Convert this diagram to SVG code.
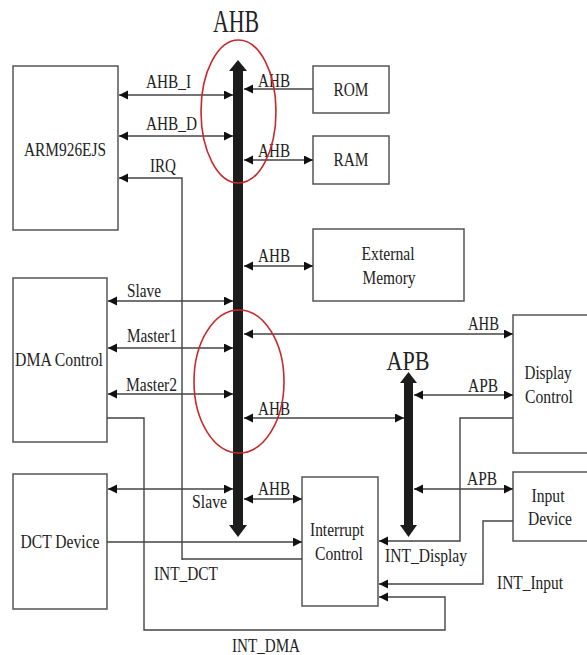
<svg xmlns="http://www.w3.org/2000/svg" width="587" height="655" viewBox="0 0 587 655">
<style>
.box{fill:#fff;stroke:#555;stroke-width:1.5}
.ln{fill:none;stroke:#444;stroke-width:1.4}
.t{font-family:"Liberation Serif","Times New Roman",serif;font-size:18px;fill:#222}
.c{text-anchor:middle}
.bus{fill:#1c1c1c}
.ring{fill:none;stroke:#c8282a;stroke-width:1.6}
</style>
<defs>
<marker id="ah" markerUnits="userSpaceOnUse" markerWidth="10" markerHeight="10" refX="9" refY="4.5" orient="auto-start-reverse" viewBox="0 0 10 10">
<path d="M0,0 L9,4.5 L0,9 z" fill="#111"/>
</marker>
</defs>
<rect width="587" height="655" fill="#fff"/>

<g id="ahb-bus">
<rect class="bus" x="233" y="70" width="10" height="457"/>
<polygon class="bus" points="238,60 247,71 229,71"/>
<polygon class="bus" points="229,525 247,525 238,537"/>
<text class="t c" x="236" y="32" style="font-size:31px" textLength="46" lengthAdjust="spacingAndGlyphs">AHB</text>
</g>
<g id="apb-bus">
<rect class="bus" x="404" y="381" width="9" height="146"/>
<polygon class="bus" points="408.5,372 417,383 400,383"/>
<polygon class="bus" points="400,525 417,525 408.5,537"/>
<text class="t c" x="408" y="370" style="font-size:27px" textLength="43" lengthAdjust="spacingAndGlyphs">APB</text>
</g>

<g id="arm">
<rect class="box" x="13" y="66" width="105" height="164"/>
<text class="t c" x="65" y="156" textLength="82" lengthAdjust="spacingAndGlyphs">ARM926EJS</text>
</g>
<g id="rom">
<rect class="box" x="313" y="66" width="76" height="47"/>
<text class="t c" x="351" y="96" textLength="35" lengthAdjust="spacingAndGlyphs">ROM</text>
</g>
<g id="ram">
<rect class="box" x="313" y="136" width="76" height="48"/>
<text class="t c" x="351" y="166" textLength="35" lengthAdjust="spacingAndGlyphs">RAM</text>
</g>
<g id="ext-mem">
<rect class="box" x="313" y="229" width="151" height="72"/>
<text class="t c" x="388" y="260" textLength="53" lengthAdjust="spacingAndGlyphs">External</text>
<text class="t c" x="389" y="284" textLength="53" lengthAdjust="spacingAndGlyphs">Memory</text>
</g>
<g id="dma">
<rect class="box" x="13" y="278" width="94" height="164"/>
<text class="t c" x="59" y="366" textLength="88" lengthAdjust="spacingAndGlyphs">DMA Control</text>
</g>
<g id="display">
<rect class="box" x="513" y="315" width="80" height="138"/>
<text class="t c" x="548" y="379" textLength="47" lengthAdjust="spacingAndGlyphs">Display</text>
<text class="t c" x="549" y="403" textLength="48" lengthAdjust="spacingAndGlyphs">Control</text>
</g>
<g id="dct">
<rect class="box" x="13" y="474" width="94" height="135"/>
<text class="t c" x="60" y="548" textLength="79" lengthAdjust="spacingAndGlyphs">DCT Device</text>
</g>
<g id="interrupt">
<rect class="box" x="302" y="477" width="76" height="129"/>
<text class="t c" x="337" y="536" textLength="54" lengthAdjust="spacingAndGlyphs">Interrupt</text>
<text class="t c" x="339" y="560" textLength="48" lengthAdjust="spacingAndGlyphs">Control</text>
</g>
<g id="input">
<rect class="box" x="513" y="472" width="80" height="69"/>
<text class="t c" x="548" y="502" textLength="33" lengthAdjust="spacingAndGlyphs">Input</text>
<text class="t c" x="550" y="525" textLength="44" lengthAdjust="spacingAndGlyphs">Device</text>
</g>

<g id="connectors">
<line class="ln" x1="119" y1="95" x2="233" y2="95" marker-start="url(#ah)" marker-end="url(#ah)"/>
<line class="ln" x1="119" y1="136" x2="233" y2="136" marker-start="url(#ah)" marker-end="url(#ah)"/>
<polyline class="ln" points="182,560 182,178 119,178" marker-end="url(#ah)"/>
<line class="ln" x1="313" y1="89" x2="244" y2="89" marker-end="url(#ah)"/>
<line class="ln" x1="244" y1="160" x2="313" y2="160" marker-start="url(#ah)" marker-end="url(#ah)"/>
<line class="ln" x1="244" y1="266" x2="313" y2="266" marker-start="url(#ah)" marker-end="url(#ah)"/>
<line class="ln" x1="108" y1="301" x2="233" y2="301" marker-start="url(#ah)" marker-end="url(#ah)"/>
<line class="ln" x1="108" y1="348" x2="233" y2="348" marker-start="url(#ah)" marker-end="url(#ah)"/>
<line class="ln" x1="108" y1="394" x2="233" y2="394" marker-start="url(#ah)" marker-end="url(#ah)"/>
<line class="ln" x1="244" y1="334" x2="513" y2="334" marker-start="url(#ah)" marker-end="url(#ah)"/>
<line class="ln" x1="414" y1="395" x2="513" y2="395" marker-start="url(#ah)" marker-end="url(#ah)"/>
<line class="ln" x1="244" y1="418" x2="404" y2="418" marker-start="url(#ah)" marker-end="url(#ah)"/>
<line class="ln" x1="108" y1="489" x2="233" y2="489" marker-start="url(#ah)" marker-end="url(#ah)"/>
<line class="ln" x1="244" y1="499" x2="302" y2="499" marker-start="url(#ah)" marker-end="url(#ah)"/>
<line class="ln" x1="414" y1="489" x2="513" y2="489" marker-start="url(#ah)" marker-end="url(#ah)"/>
<line class="ln" x1="107" y1="542" x2="302" y2="542" marker-end="url(#ah)"/>
<line class="ln" x1="182" y1="559" x2="302" y2="559"/>
<polyline class="ln" points="107,418 144,418 144,630 445,630 445,597 379,597" marker-end="url(#ah)"/>
<polyline class="ln" points="513,418 460,418 460,541 379,541" marker-end="url(#ah)"/>
<polyline class="ln" points="513,521 483,521 483,584 379,584" marker-end="url(#ah)"/>
<text class="t" x="146" y="88" textLength="45" lengthAdjust="spacingAndGlyphs">AHB_I</text>
<text class="t" x="146" y="130" textLength="51" lengthAdjust="spacingAndGlyphs">AHB_D</text>
<text class="t" x="150" y="172" textLength="26" lengthAdjust="spacingAndGlyphs">IRQ</text>
<text class="t" x="258" y="87" textLength="32" lengthAdjust="spacingAndGlyphs">AHB</text>
<text class="t" x="258" y="157" textLength="32" lengthAdjust="spacingAndGlyphs">AHB</text>
<text class="t" x="258" y="262" textLength="32" lengthAdjust="spacingAndGlyphs">AHB</text>
<text class="t" x="127" y="297" textLength="34" lengthAdjust="spacingAndGlyphs">Slave</text>
<text class="t" x="127" y="342" textLength="50" lengthAdjust="spacingAndGlyphs">Master1</text>
<text class="t" x="126" y="391" textLength="51" lengthAdjust="spacingAndGlyphs">Master2</text>
<text class="t" x="468" y="330" textLength="31" lengthAdjust="spacingAndGlyphs">AHB</text>
<text class="t" x="468" y="392" textLength="30" lengthAdjust="spacingAndGlyphs">APB</text>
<text class="t" x="258" y="415" textLength="32" lengthAdjust="spacingAndGlyphs">AHB</text>
<text class="t" x="192" y="508" textLength="35" lengthAdjust="spacingAndGlyphs">Slave</text>
<text class="t" x="258" y="495" textLength="32" lengthAdjust="spacingAndGlyphs">AHB</text>
<text class="t" x="467" y="485" textLength="30" lengthAdjust="spacingAndGlyphs">APB</text>
<text class="t" x="154" y="580" textLength="64" lengthAdjust="spacingAndGlyphs">INT_DCT</text>
<text class="t" x="385" y="562" textLength="82" lengthAdjust="spacingAndGlyphs">INT_Display</text>
<text class="t" x="497" y="589" textLength="66" lengthAdjust="spacingAndGlyphs">INT_Input</text>
<text class="t" x="232" y="652" textLength="68" lengthAdjust="spacingAndGlyphs">INT_DMA</text>
</g>

<g id="highlights">
<ellipse class="ring" cx="238.5" cy="111.5" rx="37.5" ry="71.5"/>
<ellipse class="ring" cx="239" cy="381.5" rx="45" ry="71.5"/>
</g>
</svg>
